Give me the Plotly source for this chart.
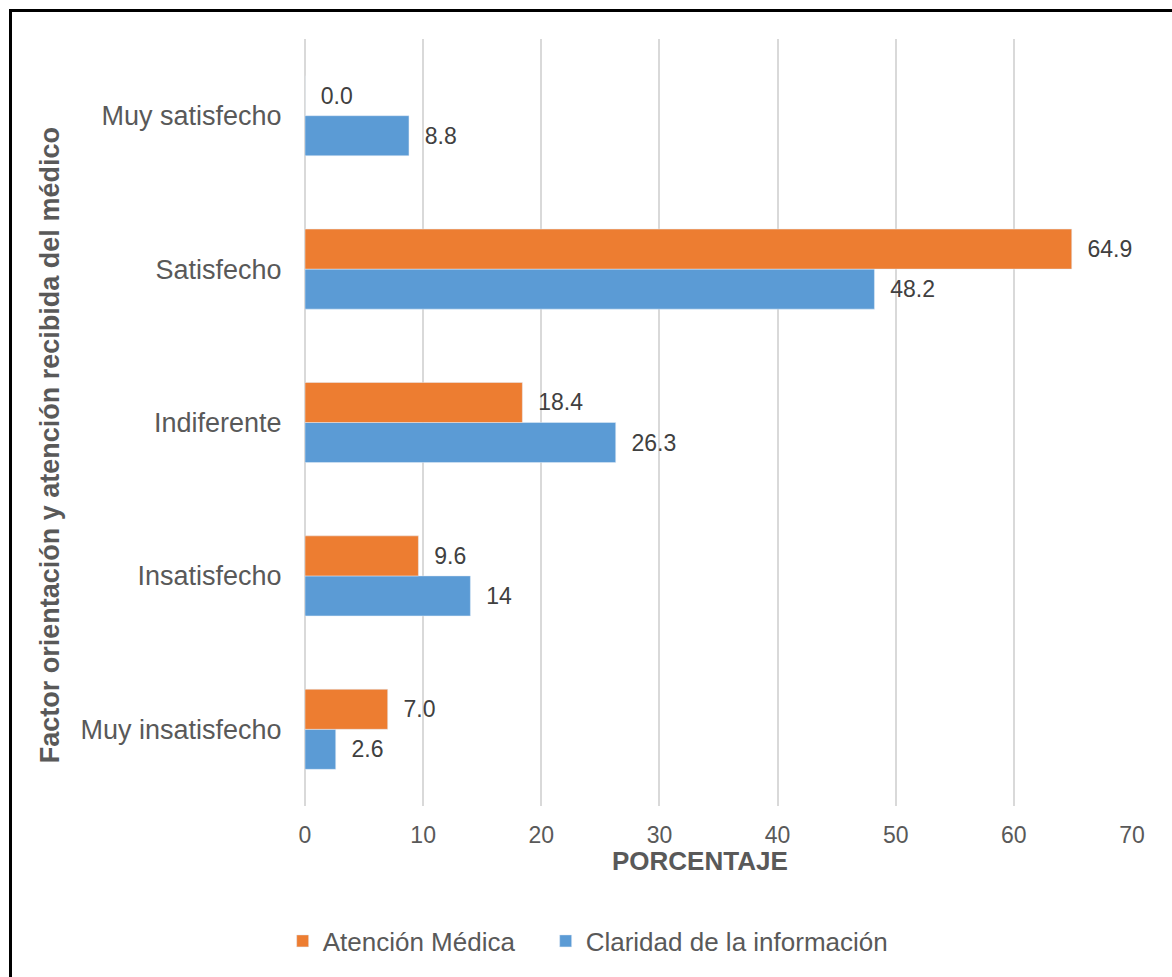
import plotly.graph_objects as go

# Datos (categorías de abajo hacia arriba)
categorias = ["Muy insatisfecho", "Insatisfecho", "Indiferente", "Satisfecho", "Muy satisfecho"]
atencion_medica = [7.0, 9.6, 18.4, 64.9, 0.0]
atencion_labels = ["7.0", "9.6", "18.4", "64.9", "0.0"]
claridad_info = [2.6, 14, 26.3, 48.2, 8.8]
claridad_labels = ["2.6", "14", "26.3", "48.2", "8.8"]
x_ticks = [0, 10, 20, 30, 40, 50, 60, 70]

colors = {'orange': '#ED7D31', 'blue': '#5B9BD5', 'grid': '#D9D9D9', 'text': '#595959', 'label': '#404040'}
FONT = "Liberation Sans, Arial, sans-serif"
PAD = "\u00a0\u00a0"

fig = go.Figure()

# Claridad primero para que quede debajo dentro de cada grupo
fig.add_trace(go.Bar(
    y=categorias,
    x=claridad_info,
    orientation='h',
    name='Claridad de la información',
    legend='legend2',
    marker=dict(color=colors['blue']),
    text=[PAD + t for t in claridad_labels],
    textposition='outside',
    textfont=dict(size=23, color=colors['label'], family=FONT),
    cliponaxis=False,
))

fig.add_trace(go.Bar(
    y=categorias,
    x=atencion_medica,
    orientation='h',
    name='Atención Médica',
    legend='legend',
    marker=dict(color=colors['orange']),
    text=[PAD + t for t in atencion_labels],
    textposition='outside',
    textfont=dict(size=23, color=colors['label'], family=FONT),
    cliponaxis=False,
))

# una leyenda por serie para poder ubicar cada entrada
legend_style = dict(
    orientation='h',
    xanchor='left',
    y=-0.176, yanchor='middle',
    font=dict(size=26, color=colors['text']),
    bgcolor='rgba(0,0,0,0)',
)

fig.update_layout(
    width=1172,
    height=977,
    barmode='group',
    bargap=0.478,
    bargroupgap=0,
    showlegend=True,
    plot_bgcolor='white',
    paper_bgcolor='white',
    font=dict(family=FONT, size=27, color=colors['text']),
    margin=dict(l=305, r=40, t=39, b=171),
    legend=dict(x=-0.027, **legend_style),
    legend2=dict(x=0.291, **legend_style),
)

fig.update_xaxes(
    range=[0, 70],
    tickvals=x_ticks,
    showgrid=True,
    gridwidth=2,
    gridcolor=colors['grid'],
    zeroline=True,
    zerolinecolor=colors['grid'],
    zerolinewidth=2,
    showline=False,
    tickfont=dict(size=23, color=colors['text']),
    ticks='outside',
    ticklen=8,
    tickcolor='rgba(0,0,0,0)',
)
fig.update_yaxes(
    showgrid=False,
    zeroline=False,
    showline=False,
    tickfont=dict(size=27, color=colors['text']),
    ticks='outside',
    ticklen=17,
    tickcolor='rgba(0,0,0,0)',
)

# Títulos de ejes como anotaciones
fig.add_annotation(
    text='<b>PORCENTAJE</b>', xref='paper', yref='paper',
    x=0.478, y=-0.0717, xanchor='center', yanchor='middle',
    showarrow=False, font=dict(size=26, color=colors['text']),
)
fig.add_annotation(
    text='<b>Factor orientación y atención recibida del médico</b>', xref='paper', yref='paper',
    x=-0.308, y=0.4707, xanchor='center', yanchor='middle', textangle=-90,
    showarrow=False, font=dict(size=27, color=colors['text']),
)

# Marco negro del gráfico
fig.add_shape(
    type='rect', xref='paper', yref='paper',
    x0=-0.3561, x1=1.3, y0=-0.5, y1=1.0372,
    line=dict(color='black', width=3), fillcolor='rgba(0,0,0,0)', layer='above',
)

# quitar el margen por defecto del body para que la figura empiece en (0, 0)
fig.write_html(
    "out.html",
    config={'displayModeBar': False},
    post_script="document.body.style.margin = '0';",
)
